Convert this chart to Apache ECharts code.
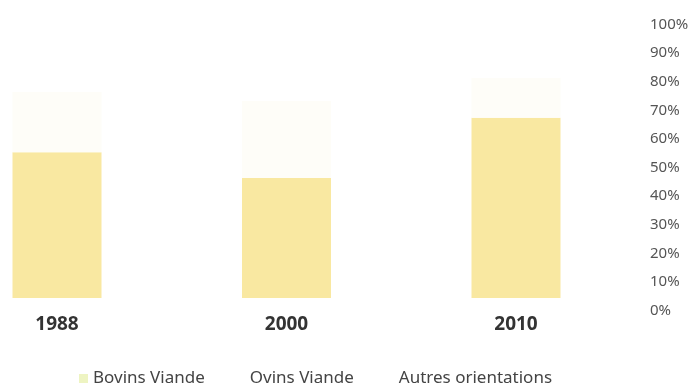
<!DOCTYPE html>
<html>
<head>
<meta charset="utf-8">
<script src="https://cdn.jsdelivr.net/npm/echarts@6/dist/echarts.min.js"></script>
<style>
  html, body { margin: 0; padding: 0; background: #fff; }
  #chart { width: 697px; height: 387px; }
</style>
</head>
<body>
<div id="chart"></div>
<script>
const YEARS = ['1988', '2000', '2010']
const BOVINS = [51, 42, 63]
const OVINS = [21, 27, 14]
const AUTRES = [28, 31, 23]

const BOVINS_COLOR = '#f9e8a1'
const OVINS_COLOR = '#fefdf8'
const AUTRES_COLOR = '#ffffff'

const chart = echarts.init(document.getElementById('chart'))
chart.setOption({
  animation: false,
  backgroundColor: '#fff',
  grid: {
    left: 57,
    right: 181,
    top: 12,
    bottom: 89,
    containLabel: false,
  },
  legend: {
    left: 74,
    top: 365,
    itemWidth: 9,
    itemHeight: 9,
    itemGap: 31,
    icon: 'rect',
    textStyle: {
      color: '#444',
      fontFamily: 'Noto Sans',
      fontSize: 17,
    },
    data: [
      { name: 'Bovins Viande', itemStyle: { color: '#eef4c2' } },
      { name: 'Ovins Viande', itemStyle: { color: '#ffffff' } },
      { name: 'Autres orientations', itemStyle: { color: '#ffffff' } },
    ],
  },
  xAxis: {
    type: 'category',
    boundaryGap: false,
    data: YEARS,
    axisLine: { show: false },
    axisTick: { show: false },
    axisLabel: {
      color: '#333',
      fontFamily: 'Noto Sans',
      fontWeight: 'bold',
      fontSize: 19,
      margin: 17,
    },
  },
  yAxis: {
    type: 'value',
    position: 'right',
    min: 0,
    max: 100,
    interval: 10,
    axisLine: { show: false },
    axisTick: { show: false },
    splitLine: { show: false },
    axisLabel: {
      color: '#555',
      fontFamily: 'Noto Sans',
      fontSize: 15,
      align: 'left',
      margin: 134,
      verticalAlign: 'top',
      padding: [5, 0, 0, 0],
      formatter: '{value}%',
    },
  },
  series: [
    {
      name: 'Bovins Viande',
      type: 'bar',
      stack: 'total',
      barWidth: 89,
      data: BOVINS,
      itemStyle: { color: BOVINS_COLOR },
    },
    {
      name: 'Ovins Viande',
      type: 'bar',
      stack: 'total',
      barWidth: 89,
      data: OVINS,
      itemStyle: { color: OVINS_COLOR },
    },
    {
      name: 'Autres orientations',
      type: 'bar',
      stack: 'total',
      barWidth: 89,
      data: AUTRES,
      itemStyle: { color: AUTRES_COLOR },
    },
  ],
})
</script>
</body>
</html>
